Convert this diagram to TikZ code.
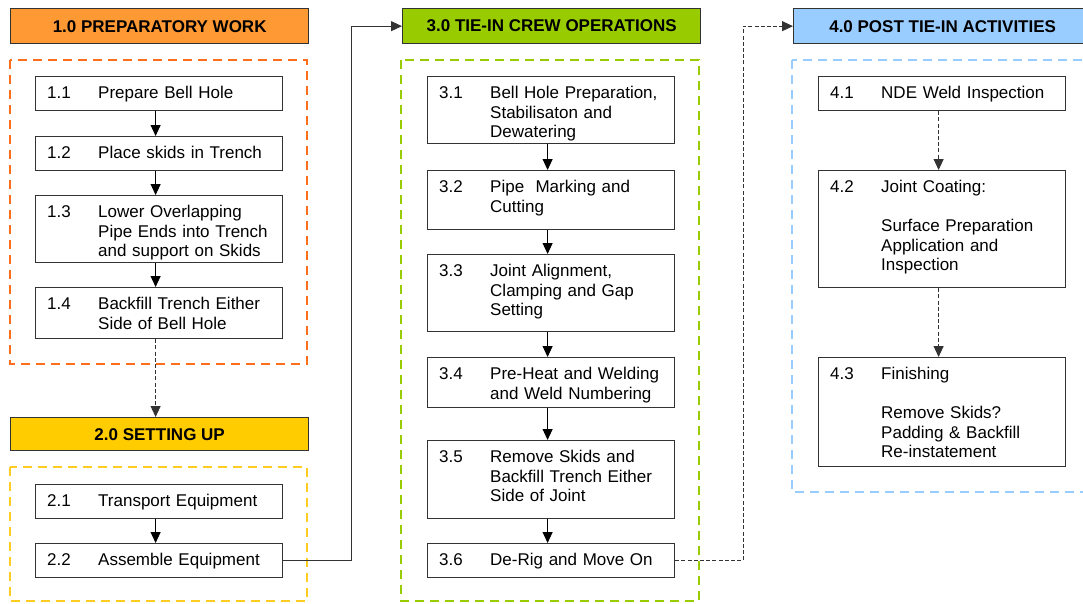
\documentclass[tikz,border=0pt]{standalone}
\usepackage{fontspec}
\setmainfont{Liberation Sans}
\usetikzlibrary{arrows.meta}

\definecolor{hdrorange}{HTML}{FF9933}
\definecolor{hdryellow}{HTML}{FFCC00}
\definecolor{hdrgreen}{HTML}{99CC00}
\definecolor{hdrblue}{HTML}{99CCFF}
\definecolor{dashorange}{HTML}{FF6E1A}
\definecolor{dashyellow}{HTML}{FFCC22}
\definecolor{dashgreen}{HTML}{99CC00}
\definecolor{dashblue}{HTML}{99CCFF}
\definecolor{boxline}{HTML}{333333}

\newcommand\bodyfont{\fontsize{17}{19.5}\selectfont}
\newcommand\headfont{\fontsize{17}{19.5}\selectfont\bfseries}

% one numbered activity box: name, left x, top y, bottom y, number, text
\newcommand\activity[6]{%
  \node[actbox, minimum height={#4-#3}] (#1) at (#2,#3) {};
  \node[numlbl] (#1n) at ([shift={(12pt,-22.5pt)}]#1.north west) {#5};
  \node[txtlbl] (#1t) at ([shift={(63pt,-22.5pt)}]#1.north west) {#6};
}

\tikzset{
  actbox/.style={rectangle, draw=boxline, line width=1.2pt, fill=white,
    minimum width=247pt, inner sep=0pt, anchor=north west},
  numlbl/.style={anchor=base west, inner sep=0pt, font=\bodyfont},
  txtlbl/.style={anchor=base west, inner sep=0pt, font=\bodyfont,
    align=left, text width=185pt},
  header/.style={rectangle, draw=boxline, line width=1.3pt,
    minimum width=298pt, inner sep=0pt, anchor=north west, font=\headfont},
  frame/.style={line width=2.6pt, dash pattern=on 9pt off 6pt},
  tip/.style={-{Triangle[length=11pt,width=10pt]}},
  flow/.style={line width=1pt, tip},
  dflow/.style={flow, draw=boxline, dash pattern=on 4pt off 2.2pt},
  link/.style={line width=1pt, draw=boxline, tip},
}

\begin{document}
\begin{tikzpicture}[x=1pt, y=-1pt]
\clip (0,0) rectangle (1083,603);
\fill[white] (0,0) rectangle (1083,603);

% grouping frames
\draw[frame, draw=dashorange] (10,60) rectangle (307,364);
\draw[frame, draw=dashyellow] (10,467) rectangle (307,601);
\draw[frame, draw=dashgreen] (401,60) rectangle (699,601);
\draw[frame, draw=dashblue] (792,60) rectangle (1090,492);

% section headers
\node[header, fill=hdrorange, minimum height=35pt] (h1) at (10,8) {1.0 PREPARATORY WORK};
\node[header, fill=hdryellow, minimum height=33pt] (h2) at (10,417) {2.0 SETTING UP};
\node[header, fill=hdrgreen, minimum height=35pt] (h3) at (402,8) {3.0 TIE-IN CREW OPERATIONS};
\node[header, fill=hdrblue, minimum height=35pt] (h4) at (793,8) {4.0 POST TIE-IN ACTIVITIES};

% 1.0 preparatory work
\activity{b11}{35}{76}{110}{1.1}{Prepare Bell Hole}
\activity{b12}{35}{136}{170}{1.2}{Place skids in Trench}
\activity{b13}{35}{195}{262}{1.3}{Lower Overlapping\\Pipe Ends into Trench\\and support on Skids}
\activity{b14}{35}{287}{338}{1.4}{Backfill Trench Either\\Side of Bell Hole}

% 2.0 setting up
\activity{b21}{35}{484}{518}{2.1}{Transport Equipment}
\activity{b22}{35}{543}{577}{2.2}{Assemble Equipment}

% 3.0 tie-in crew operations
\activity{b31}{427}{76}{143}{3.1}{Bell Hole Preparation,\\Stabilisaton and\\Dewatering}
\activity{b32}{427}{170}{229}{3.2}{Pipe\ \ Marking and\\Cutting}
\activity{b33}{427}{254}{331}{3.3}{Joint Alignment,\\Clamping and Gap\\Setting}
\activity{b34}{427}{357}{407}{3.4}{Pre-Heat and Welding\\and Weld Numbering}
\activity{b35}{427}{440}{518}{3.5}{Remove Skids and\\Backfill Trench Either\\Side of Joint}
\activity{b36}{427}{543}{577}{3.6}{De-Rig and Move On}

% 4.0 post tie-in activities
\activity{b41}{818}{76}{110}{4.1}{NDE Weld Inspection}
\activity{b42}{818}{170}{287}{4.2}{Joint Coating:\\[19.5pt]Surface Preparation\\Application and\\Inspection}
\activity{b43}{818}{357}{466}{4.3}{Finishing\\[19.5pt]Remove Skids?\\Padding \& Backfill\\Re-instatement}

% flow within groups
\foreach \a/\b in {b11/b12, b12/b13, b13/b14, b21/b22,
                   b31/b32, b32/b33, b33/b34, b34/b35, b35/b36}
  \draw[flow] ([xshift=-3.5pt]\a.south) -- ([xshift=-3.5pt]\b.north);
\draw[dflow] ([xshift=-3.5pt]b41.south) -- ([xshift=-3.5pt]b42.north);
\draw[dflow] ([xshift=-3.5pt]b42.south) -- ([xshift=-3.5pt]b43.north);

% links between groups
\draw[dflow] ([xshift=-3.5pt]b14.south) -- ([xshift=-3.5pt]b14.south |- h2.north);
\draw[link] (b22.east) -- ++(68pt,0) |- (h3.west);
\draw[dflow] (b36.east) -- ++(68pt,0) |- (h4.west);
\end{tikzpicture}
\end{document}
